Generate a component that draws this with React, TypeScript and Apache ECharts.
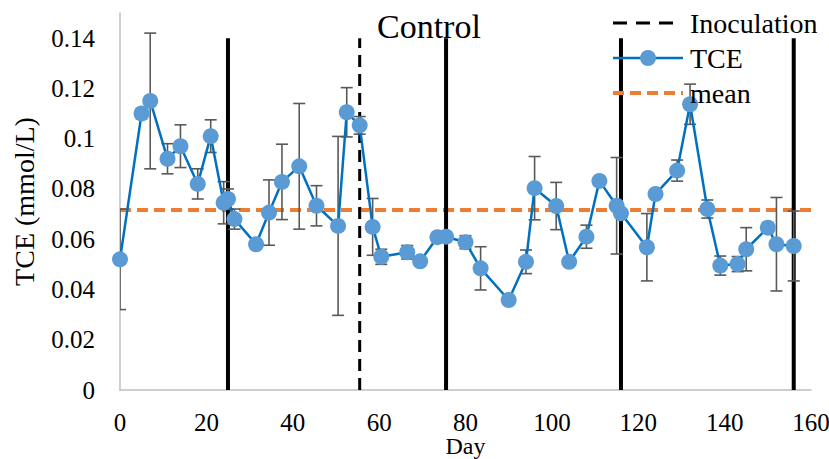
import React, { useEffect, useRef } from "react";
import * as echarts from "echarts";

const days = [0, 5, 7, 11, 14, 18, 21, 24, 25, 26.5, 31.5, 34.5, 37.5, 41.5, 45.5, 50.5, 52.5, 55.5, 58.5, 60.5, 66.5, 69.5, 73.5, 75.5, 80, 83.5, 90, 94, 96, 101, 104, 108, 111, 115, 116, 122, 124, 129, 132, 136, 139, 143, 145, 150, 152, 156];
const tce = [0.052, 0.110, 0.115, 0.092, 0.097, 0.082, 0.101, 0.0745, 0.076, 0.068, 0.058, 0.0706, 0.0828, 0.089, 0.0733, 0.0653, 0.1105, 0.1053, 0.0649, 0.053, 0.0548, 0.0512, 0.0608, 0.061, 0.0588, 0.0484, 0.0358, 0.051, 0.0803, 0.0732, 0.051, 0.061, 0.0832, 0.0733, 0.0703, 0.0568, 0.078, 0.0873, 0.1137, 0.072, 0.0495, 0.0501, 0.056, 0.0646, 0.058, 0.0573];
const errs = [0.020, 0.002, 0.027, 0.006, 0.0085, 0.006, 0.0065, 0.0084, 0.004, 0.004, 0, 0.013, 0.015, 0.025, 0.008, 0.0356, 0.0098, 0.0035, 0.0113, 0.003, 0.0027, 0, 0.001, 0, 0.0026, 0.0086, 0, 0.0047, 0.0126, 0.0094, 0, 0.0046, 0, 0.0192, 0, 0.0134, 0, 0.0042, 0.008, 0.0036, 0.0038, 0.003, 0.0086, 0.002, 0.0186, 0.0139];
const stageDays = [25, 75.5, 116, 156];
const inoculationDay = 55.5;
const lineTop = 0.14;
const meanValue = 0.0716;
const xTicks = [0, 160, 20];
const yTicks = [0, 0.15, 0.02];
const legendNames = ["Inoculation", "TCE", "mean"];

const FONT = "Liberation Serif";
const BLUE_LINE = "#0070C0";
const BLUE_DOT = "#5B9BD5";
const ORANGE = "#ED7D31";

export default function App() {
  const ref = useRef<HTMLDivElement>(null);
  useEffect(() => {
    document.body.style.margin = "0";
    if (!ref.current) return;
    const chart = echarts.init(ref.current, null, { renderer: "svg" });
    const errData = days
      .map((d, i) => [d, tce[i] - errs[i], tce[i] + errs[i], errs[i]])
      .filter((r) => r[3] > 0);
    const stageSeries = stageDays.map((d, i) => ({
      name: "stage" + i,
      type: "line",
      data: [[d, 0], [d, lineTop]],
      symbol: "none",
      lineStyle: { color: "#000", width: 4 },
      z: 3,
    }));
    const lx0 = 613;
    const lx1 = 683;
    const rows = [23, 58, 93];
    const legendGraphics: any[] = [
      {
        type: "line",
        shape: { x1: lx0, y1: rows[0], x2: 673, y2: rows[0] },
        style: { stroke: "#000", lineWidth: 3, lineDash: [14, 9] },
        z: 100,
      },
      {
        type: "line",
        shape: { x1: lx0, y1: rows[1], x2: lx1, y2: rows[1] },
        style: { stroke: BLUE_LINE, lineWidth: 2.5 },
        z: 100,
      },
      {
        type: "circle",
        shape: { cx: (lx0 + lx1) / 2, cy: rows[1], r: 8 },
        style: { fill: BLUE_DOT },
        z: 101,
      },
      {
        type: "line",
        shape: { x1: lx0, y1: rows[2], x2: lx1, y2: rows[2] },
        style: { stroke: ORANGE, lineWidth: 4, lineDash: [11, 6] },
        z: 100,
      },
      ...legendNames.map((n, i) => ({
        type: "text",
        x: 690,
        y: rows[i],
        z: 102,
        style: {
          text: n,
          fontFamily: FONT,
          fontSize: 28,
          fill: "#000",
          verticalAlign: "middle",
          align: "left",
        },
      })),
      {
        type: "text",
        x: 377,
        y: 26,
        z: 102,
        style: {
          text: "Control",
          fontFamily: FONT,
          fontSize: 34,
          fill: "#000",
          verticalAlign: "middle",
          align: "left",
        },
      },
    ];
    chart.setOption({
      animation: false,
      textStyle: { fontFamily: FONT },
      grid: { left: 120, right: 18, top: 13, bottom: 69, outerBoundsMode: "none", containLabel: false },
      graphic: legendGraphics,
      xAxis: {
        type: "value",
        min: xTicks[0],
        max: xTicks[1],
        interval: xTicks[2],
        name: "Day",
        nameLocation: "middle",
        nameGap: 44,
        nameMoveOverlap: false,
        nameTextStyle: { fontFamily: FONT, fontSize: 24, color: "#000" },
        axisLine: { lineStyle: { color: "#bfbfbf", width: 1.5 } },
        axisTick: { show: false },
        splitLine: { show: false },
        axisLabel: { fontFamily: FONT, fontSize: 25, color: "#000", margin: 20 },
      },
      yAxis: {
        type: "value",
        min: yTicks[0],
        max: yTicks[1],
        interval: yTicks[2],
        name: "TCE (mmol/L)",
        nameLocation: "middle",
        nameGap: 82,
        nameTextStyle: { fontFamily: FONT, fontSize: 28, color: "#000" },
        axisLine: { show: true, lineStyle: { color: "#bfbfbf", width: 1.5 } },
        axisTick: { show: false },
        splitLine: { show: false },
        axisLabel: {
          fontFamily: FONT,
          fontSize: 25,
          color: "#000",
          margin: 25,
          formatter: (v: number) => (v > 0.145 ? "" : String(+v.toFixed(2))),
        },
      },
      series: [
        {
          name: "mean",
          type: "line",
          data: [[0, meanValue], [160, meanValue]],
          symbol: "none",
          lineStyle: { color: ORANGE, width: 4, type: [11, 6] },
          z: 2,
        },
        ...stageSeries,
        {
          name: "Inoculation",
          type: "line",
          data: [[inoculationDay, 0], [inoculationDay, lineTop]],
          symbol: "none",
          lineStyle: { color: "#000", width: 3, type: [12, 7] },
          z: 3,
        },
        {
          name: "err",
          type: "custom",
          data: errData,
          clip: true,
          z: 4,
          renderItem: (params: any, api: any) => {
            const x = api.value(0);
            const lo = api.coord([x, api.value(1)]);
            const hi = api.coord([x, api.value(2)]);
            const hw = 6;
            const st = { stroke: "#595959", lineWidth: 1.6 };
            return {
              type: "group",
              children: [
                { type: "line", shape: { x1: lo[0], y1: lo[1], x2: hi[0], y2: hi[1] }, style: st },
                { type: "line", shape: { x1: lo[0] - hw, y1: lo[1], x2: lo[0] + hw, y2: lo[1] }, style: st },
                { type: "line", shape: { x1: hi[0] - hw, y1: hi[1], x2: hi[0] + hw, y2: hi[1] }, style: st },
              ],
            };
          },
        },
        {
          name: "TCE",
          type: "line",
          data: days.map((d, i) => [d, tce[i]]),
          symbol: "circle",
          symbolSize: 16,
          lineStyle: { color: BLUE_LINE, width: 2.5 },
          itemStyle: { color: BLUE_DOT, borderWidth: 0 },
          z: 5,
        },
      ],
    });
    return () => chart.dispose();
  }, []);
  return <div ref={ref} style={{ width: 829, height: 459 }} />;
}
